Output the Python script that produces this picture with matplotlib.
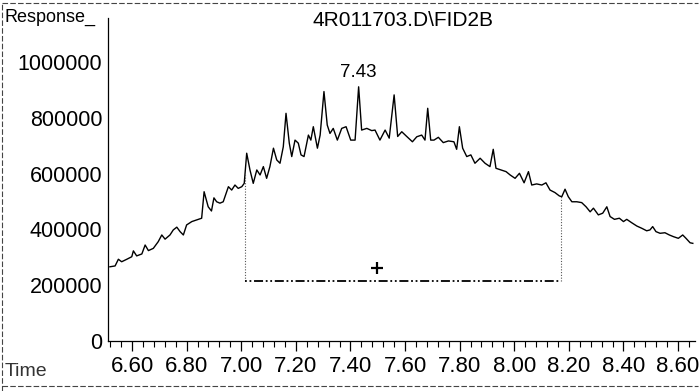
import numpy as np
import matplotlib
matplotlib.use("Agg")
import matplotlib.pyplot as plt
from matplotlib.lines import Line2D
from matplotlib.ticker import MultipleLocator, FixedLocator

# FID2B trace, retention time in minutes and detector response
time_min = [
    6.519, 6.538, 6.550, 6.562, 6.581, 6.599, 6.605, 6.617, 6.636, 6.648,
    6.660, 6.678, 6.696, 6.709, 6.721, 6.739, 6.751, 6.764, 6.776, 6.788,
    6.800, 6.819, 6.837, 6.855, 6.864, 6.879, 6.891, 6.900, 6.910, 6.922,
    6.934, 6.953, 6.965, 6.977, 6.989, 7.002, 7.011, 7.020, 7.032, 7.044,
    7.057, 7.069, 7.081, 7.093, 7.105, 7.118, 7.130, 7.142, 7.154, 7.164,
    7.176, 7.185, 7.197, 7.209, 7.219, 7.230, 7.246, 7.255, 7.264, 7.279,
    7.289, 7.303, 7.315, 7.325, 7.337, 7.352, 7.368, 7.384, 7.401, 7.417,
    7.430, 7.441, 7.460, 7.478, 7.490, 7.508, 7.527, 7.542, 7.560, 7.573,
    7.588, 7.604, 7.627, 7.643, 7.661, 7.673, 7.683, 7.694, 7.706, 7.722,
    7.740, 7.759, 7.779, 7.789, 7.799, 7.811, 7.826, 7.841, 7.856, 7.875,
    7.893, 7.911, 7.923, 7.933, 7.951, 7.970, 7.985, 8.003, 8.019, 8.036,
    8.052, 8.064, 8.082, 8.101, 8.116, 8.131, 8.149, 8.165, 8.174, 8.186,
    8.198, 8.211, 8.229, 8.247, 8.263, 8.278, 8.290, 8.308, 8.324, 8.339,
    8.351, 8.367, 8.385, 8.400, 8.412, 8.430, 8.449, 8.467, 8.485, 8.497,
    8.507, 8.519, 8.534, 8.552, 8.568, 8.583, 8.601, 8.617, 8.629, 8.644,
    8.654,
]
response = [
    266000, 269000, 293000, 284000, 293000, 302000, 323000, 305000, 312000, 344000,
    324000, 332000, 356000, 380000, 365000, 380000, 398000, 408000, 392000, 380000,
    416000, 428000, 434000, 440000, 535000, 481000, 466000, 513000, 499000, 494000,
    499000, 553000, 541000, 559000, 547000, 553000, 565000, 673000, 613000, 565000,
    613000, 595000, 625000, 583000, 625000, 691000, 649000, 637000, 696000, 816000,
    709000, 661000, 720000, 709000, 667000, 661000, 738000, 720000, 768000, 691000,
    738000, 894000, 774000, 744000, 762000, 720000, 762000, 768000, 720000, 720000,
    911000, 756000, 762000, 754000, 756000, 720000, 756000, 727000, 882000, 733000,
    750000, 735000, 714000, 732000, 738000, 720000, 834000, 720000, 720000, 730000,
    711000, 717000, 714000, 687000, 768000, 691000, 661000, 667000, 637000, 655000,
    637000, 625000, 687000, 619000, 613000, 607000, 595000, 583000, 601000, 567000,
    607000, 559000, 563000, 559000, 567000, 541000, 532000, 520000, 517000, 544000,
    517000, 499000, 499000, 496000, 481000, 463000, 476000, 452000, 458000, 481000,
    446000, 436000, 440000, 428000, 436000, 424000, 412000, 404000, 395000, 398000,
    410000, 392000, 386000, 388000, 380000, 374000, 368000, 380000, 368000, 352000,
    350000,
]

# integration window and baseline
window_start = 7.014
window_end = 8.171
baseline = 215000
apex_time = 7.430
apex_label = "7.43"
centroid = (7.497, 261000)

x_ticks = [6.60, 6.80, 7.00, 7.20, 7.40, 7.60, 7.80, 8.00, 8.20, 8.40, 8.60]
y_ticks = [0, 200000, 400000, 600000, 800000, 1000000]

FONT = ["Liberation Sans", "DejaVu Sans"]


def draw_chromatogram(output_name):
    plt.rcParams["font.family"] = FONT
    fig = plt.figure(figsize=(7.0, 3.91), dpi=100)
    ax = fig.add_axes([108 / 700, 50 / 391, 587 / 700, 323 / 391])

    t = np.array(time_min)
    r = np.array(response)
    ax.plot(t, r, color="black", linewidth=1.0, solid_joinstyle="round")

    # baseline box of the integrated region
    top_start = np.interp(window_start, t, r)
    top_end = np.interp(window_end, t, r)
    ax.plot([window_start, window_start], [baseline, top_start],
            color="#555555", linestyle=(0, (1, 1.5)), linewidth=0.8)
    ax.plot([window_end, window_end], [baseline, top_end],
            color="#555555", linestyle=(0, (1, 1.5)), linewidth=0.8)
    ax.plot([window_start, window_end], [baseline, baseline],
            color="black", linestyle=(0, (1, 1.5, 1, 1.5, 5, 1.5)),
            linewidth=1.3)
    ax.plot(centroid[0], centroid[1], marker="+", color="black",
            markersize=8, markeredgewidth=1.6)

    apex_val = np.interp(apex_time, t, r)
    ax.text(apex_time, apex_val + 22000, apex_label, ha="center", va="bottom",
            fontsize=13.5)

    ax.set_xlim(6.512, 8.662)
    ax.set_ylim(0, 1157600)
    ax.xaxis.set_major_locator(FixedLocator(x_ticks))
    ax.xaxis.set_minor_locator(MultipleLocator(0.04))
    ax.set_xticklabels([f"{v:.2f}" for v in x_ticks])
    ax.yaxis.set_major_locator(FixedLocator(y_ticks))
    ax.set_yticklabels([str(v) for v in y_ticks])

    for side in ("top", "right"):
        ax.spines[side].set_visible(False)
    for side in ("left", "bottom"):
        ax.spines[side].set_linewidth(0.9)

    ax.tick_params(axis="x", which="major", length=7, width=0.9,
                   labelsize=16, pad=4)
    ax.tick_params(axis="x", which="minor", length=4, width=0.8)
    ax.tick_params(axis="y", which="major", length=0, labelsize=15.5, pad=4)

    fig.text(5 / 700, 1 - 17 / 391, "Response_", fontsize=13,
             ha="left", va="center")
    fig.text(403 / 700, 1 - 20 / 391, "4R011703.D\\FID2B", fontsize=15,
             ha="center", va="center")
    fig.text(5 / 700, 1 - 372 / 391, "Time", fontsize=14, ha="left",
             va="center", color="#333333")

    # frame lines around the printout
    fig.add_artist(Line2D([0.003, 0.997], [1 - 3 / 391, 1 - 3 / 391],
                          transform=fig.transFigure, color="#444444",
                          linewidth=0.8, linestyle=(0, (5, 2))))
    fig.add_artist(Line2D([0.003, 0.997], [1 - 386 / 391, 1 - 386 / 391],
                          transform=fig.transFigure, color="#444444",
                          linewidth=0.8, linestyle=(0, (5, 2))))
    fig.add_artist(Line2D([2 / 700, 2 / 700], [0.0, 1 - 3 / 391],
                          transform=fig.transFigure, color="#444444",
                          linewidth=0.8, linestyle=(0, (5, 2))))

    fig.savefig(output_name, dpi=100)
    plt.close(fig)


if __name__ == "__main__":
    draw_chromatogram("out.png")
